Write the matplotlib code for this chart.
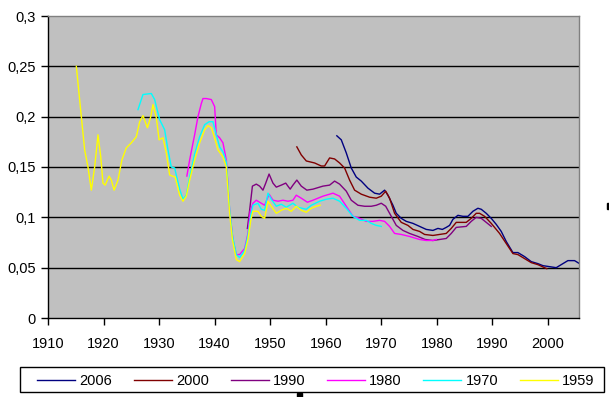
import matplotlib
matplotlib.use("Agg")
import matplotlib.pyplot as plt
from matplotlib.patches import Rectangle
from matplotlib.ticker import FuncFormatter

plt.rcParams['font.family'] = ['Liberation Sans', 'DejaVu Sans']

# valores (año, valor)
anios_2006 = [1962.0, 1962.8, 1963.7, 1964.6, 1965.5, 1966.4, 1967.6, 1968.8, 1969.7, 1970.6, 1971.2,
              1972.1, 1972.7, 1973.6, 1974.5, 1975.7, 1976.9, 1978.1, 1979.3, 1980.2, 1981.0, 1981.7,
              1982.3, 1982.9, 1983.8, 1984.7, 1985.6, 1986.5, 1987.4, 1988.0, 1988.9, 1989.8, 1990.7,
              1991.6, 1992.5, 1993.7, 1994.6, 1995.8, 1997.0, 1998.2, 1999.1, 2000.3, 2001.5, 2002.7,
              2003.6, 2004.8, 2005.7]
valores_2006 = [0.181, 0.177, 0.164, 0.149, 0.140, 0.136, 0.129, 0.124, 0.123, 0.127, 0.122,
                0.112, 0.104, 0.099, 0.096, 0.094, 0.091, 0.088, 0.087, 0.089, 0.088, 0.090,
                0.092, 0.098, 0.102, 0.101, 0.101, 0.106, 0.109, 0.108, 0.104, 0.099, 0.093,
                0.086, 0.076, 0.065, 0.065, 0.061, 0.056, 0.054, 0.052, 0.051, 0.050, 0.054,
                0.057, 0.057, 0.054]

anios_2000 = [1954.8, 1955.6, 1956.5, 1958.0, 1959.2, 1959.8, 1960.7, 1961.6, 1962.5, 1963.4, 1964.3,
              1965.2, 1966.4, 1967.9, 1969.1, 1970.0, 1970.8, 1971.5, 1972.4, 1973.6, 1974.8, 1975.7,
              1976.9, 1977.8, 1979.3, 1980.5, 1981.7, 1982.6, 1983.5, 1985.3, 1986.2, 1987.1, 1987.7,
              1988.6, 1989.8, 1991.3, 1992.5, 1993.7, 1994.6, 1995.8, 1997.0, 1998.2, 1999.4, 1999.8]
valores_2000 = [0.170, 0.162, 0.156, 0.154, 0.151, 0.151, 0.159, 0.158, 0.154, 0.149, 0.137,
                0.127, 0.123, 0.120, 0.119, 0.121, 0.126, 0.119, 0.104, 0.095, 0.092, 0.088,
                0.086, 0.083, 0.082, 0.083, 0.084, 0.089, 0.095, 0.095, 0.099, 0.104, 0.104,
                0.101, 0.094, 0.084, 0.074, 0.064, 0.063, 0.059, 0.055, 0.053, 0.050, 0.049]

anios_1990 = [1945.9, 1946.3, 1946.8, 1947.5, 1948.1, 1948.7, 1949.2, 1949.8, 1950.5, 1951.1, 1952.0,
              1952.8, 1953.6, 1954.1, 1954.8, 1955.6, 1956.6, 1957.7, 1959.5, 1960.7, 1961.6, 1962.5,
              1963.7, 1964.6, 1965.8, 1967.0, 1968.2, 1969.1, 1970.0, 1970.8, 1971.8, 1972.7, 1973.9,
              1975.1, 1976.6, 1977.9, 1979.3, 1980.5, 1981.7, 1982.6, 1983.5, 1985.3, 1986.2, 1987.1,
              1988.0, 1988.9, 1989.8]
valores_1990 = [0.089, 0.107, 0.131, 0.133, 0.131, 0.127, 0.134, 0.143, 0.134, 0.130, 0.132,
                0.134, 0.128, 0.132, 0.137, 0.131, 0.127, 0.128, 0.131, 0.132, 0.136, 0.133,
                0.126, 0.117, 0.112, 0.111, 0.111, 0.112, 0.114, 0.111, 0.101, 0.092, 0.087,
                0.084, 0.081, 0.078, 0.077, 0.078, 0.079, 0.084, 0.090, 0.091, 0.096, 0.100,
                0.099, 0.095, 0.091]

anios_1980 = [1935.0, 1935.5, 1936.4, 1937.0, 1937.6, 1937.9, 1938.5, 1939.4, 1940.0, 1940.3, 1940.9,
              1941.5, 1942.1, 1942.7, 1943.3, 1943.9, 1944.5, 1945.4, 1946.0, 1946.4, 1946.9, 1947.5,
              1948.4, 1949.0, 1949.8, 1950.5, 1951.4, 1952.3, 1953.2, 1954.1, 1954.7, 1955.6, 1956.7,
              1957.7, 1959.5, 1961.3, 1962.5, 1963.7, 1964.9, 1966.1, 1967.3, 1968.5, 1969.7, 1970.6,
              1971.5, 1972.4, 1973.6, 1975.1, 1976.9, 1978.1, 1979.3, 1979.9]
valores_1980 = [0.141, 0.157, 0.182, 0.200, 0.213, 0.218, 0.218, 0.217, 0.210, 0.182, 0.179,
                0.174, 0.157, 0.107, 0.078, 0.063, 0.063, 0.069, 0.084, 0.106, 0.114, 0.117,
                0.114, 0.112, 0.123, 0.117, 0.116, 0.117, 0.116, 0.117, 0.122, 0.119, 0.115,
                0.117, 0.121, 0.124, 0.121, 0.111, 0.101, 0.099, 0.096, 0.096, 0.097, 0.096,
                0.091, 0.084, 0.083, 0.081, 0.078, 0.077, 0.077, 0.078]

anios_1970 = [1926.2, 1927.1, 1928.6, 1929.2, 1930.1, 1931.0, 1931.6, 1932.2, 1932.8, 1933.7, 1934.3,
              1934.9, 1935.5, 1936.4, 1937.3, 1938.2, 1939.0, 1939.7, 1940.3, 1940.9, 1941.5, 1942.1,
              1942.7, 1943.2, 1943.9, 1944.5, 1945.4, 1946.0, 1946.5, 1946.9, 1947.8, 1948.4, 1949.0,
              1949.6, 1950.2, 1951.1, 1952.0, 1952.9, 1954.1, 1955.0, 1956.5, 1957.4, 1958.9, 1960.1,
              1961.3, 1962.5, 1963.7, 1964.9, 1966.1, 1967.3, 1968.2, 1969.1, 1970.0]
valores_1970 = [0.207, 0.222, 0.223, 0.217, 0.197, 0.187, 0.167, 0.150, 0.149, 0.128, 0.118,
                0.122, 0.140, 0.163, 0.180, 0.192, 0.195, 0.195, 0.182, 0.170, 0.165, 0.155,
                0.108, 0.082, 0.063, 0.060, 0.067, 0.082, 0.102, 0.112, 0.114, 0.108, 0.107,
                0.124, 0.118, 0.111, 0.113, 0.110, 0.114, 0.110, 0.108, 0.112, 0.116, 0.118,
                0.119, 0.116, 0.109, 0.101, 0.097, 0.097, 0.094, 0.092, 0.091]

anios_1959 = [1915.1, 1916.0, 1916.6, 1917.2, 1917.8, 1918.4, 1919.0, 1919.5, 1919.9, 1920.3, 1921.0,
              1921.4, 1921.9, 1922.6, 1923.3, 1924.1, 1925.0, 1925.9, 1926.5, 1927.1, 1927.9, 1928.5,
              1928.9, 1929.5, 1930.0, 1930.7, 1931.3, 1931.9, 1932.9, 1933.7, 1934.3, 1934.9, 1935.5,
              1936.4, 1937.3, 1938.2, 1938.8, 1939.4, 1940.0, 1940.6, 1941.5, 1942.1, 1942.7, 1943.2,
              1943.9, 1944.5, 1945.4, 1946.0, 1946.5, 1946.9, 1947.8, 1948.4, 1949.0, 1949.6, 1950.2,
              1951.1, 1952.0, 1952.9, 1953.8, 1954.7, 1955.6, 1956.5, 1957.4, 1958.3, 1959.0]
valores_1959 = [0.250, 0.200, 0.167, 0.150, 0.127, 0.150, 0.182, 0.160, 0.134, 0.132, 0.141,
                0.137, 0.127, 0.137, 0.157, 0.169, 0.174, 0.180, 0.195, 0.201, 0.189, 0.200,
                0.212, 0.199, 0.177, 0.179, 0.164, 0.142, 0.140, 0.122, 0.116, 0.121, 0.137,
                0.157, 0.174, 0.187, 0.191, 0.189, 0.179, 0.167, 0.160, 0.150, 0.104, 0.078,
                0.058, 0.056, 0.064, 0.078, 0.097, 0.106, 0.106, 0.101, 0.099, 0.116, 0.111,
                0.104, 0.107, 0.109, 0.106, 0.111, 0.107, 0.105, 0.109, 0.111, 0.112]

series = [
    ("2006", anios_2006, valores_2006, "#000080"),
    ("2000", anios_2000, valores_2000, "#800000"),
    ("1990", anios_1990, valores_1990, "#800080"),
    ("1980", anios_1980, valores_1980, "#FF00FF"),
    ("1970", anios_1970, valores_1970, "#00FFFF"),
    ("1959", anios_1959, valores_1959, "#FFFF00"),
]
ticks_x = [1910, 1920, 1930, 1940, 1950, 1960, 1970, 1980, 1990, 2000]
ticks_y = [0, 0.05, 0.1, 0.15, 0.2, 0.25, 0.3]

fig = plt.figure(figsize=(6.09, 3.97), dpi=100)
ax = fig.add_axes([48 / 609, 79 / 397, 531 / 609, 302 / 397])
ax.set_facecolor("#C0C0C0")

for y in ticks_y[1:-1]:
    ax.axhline(y, color="black", linewidth=1.0, zorder=1)

for nombre, xs, ys, color in series:
    ax.plot(xs, ys, color=color, linewidth=1.0, label=nombre, zorder=2)

ax.set_xlim(1910, 2005.6)
ax.set_ylim(0, 0.3)
ax.set_xticks(ticks_x)
ax.set_yticks(ticks_y)
ax.yaxis.set_major_formatter(FuncFormatter(lambda v, p: ("%g" % round(v, 2)).replace(".", ",")))
ax.tick_params(direction="out", length=5, width=1, color="black", labelsize=10.5, pad=4)
ax.tick_params(axis="x", pad=9)

for lado in ["top", "right"]:
    ax.spines[lado].set_color("#808080")
    ax.spines[lado].set_linewidth(1)
for lado in ["left", "bottom"]:
    ax.spines[lado].set_color("black")
    ax.spines[lado].set_linewidth(1)

# marco de la leyenda
fig.patches.append(Rectangle((20 / 609, 5 / 397), 584 / 609, 25 / 397, transform=fig.transFigure,
                             facecolor="white", edgecolor="black", linewidth=1))

# leyenda abajo
h, l = ax.get_legend_handles_labels()
leg = fig.legend(h, l, ncol=6, loc="lower left", mode="expand",
                 bbox_to_anchor=(33 / 609, 5 / 397, 566 / 609, 25 / 397),
                 frameon=False, fontsize=10.5, handlelength=2.6,
                 handletextpad=0.3, borderaxespad=0, borderpad=0.3)

# marcas de selección
fig.patches.append(Rectangle((297 / 609, 0), 5 / 609, 4 / 397, transform=fig.transFigure,
                             color="black"))
fig.patches.append(Rectangle((607 / 609, 188 / 397), 2 / 609, 6 / 397, transform=fig.transFigure,
                             color="black"))

fig.savefig("out.png", dpi=100)
